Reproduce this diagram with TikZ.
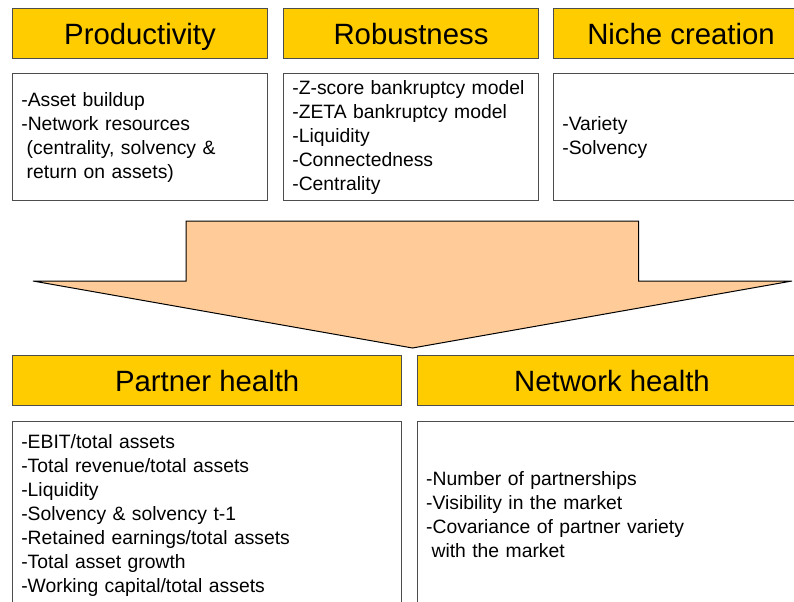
\documentclass[tikz,border=0pt]{standalone}
\usepackage{fontspec}
\setmainfont{Liberation Sans}
\usetikzlibrary{positioning}
\definecolor{headgold}{HTML}{FFCC00}
\definecolor{arrowpeach}{HTML}{FFCC99}
\definecolor{edgegray}{HTML}{4D4D4D}
\begin{document}
\begin{tikzpicture}[x=0.75pt, y=-0.75pt,
    headbox/.style={draw=edgegray, fill=headgold, line width=0.75pt, minimum height=37.5pt,
        inner sep=0pt, text height=17pt, text depth=0pt, font=\fontsize{22}{26}\selectfont},
    listbox/.style={draw=edgegray, fill=white, line width=0.75pt, inner xsep=6.6pt, inner ysep=0pt,
        align=left, font=\fontsize{14.5}{18}\selectfont}]
    \useasboundingbox (0,0) rectangle (794,601);
    \clip (0,0) rectangle (794,601);

    % top row
    \node[headbox, minimum width=191.25pt, anchor=north west] (prod) at (12,8) {Productivity};
    \node[headbox, minimum width=191.25pt, right=11.25pt of prod] (rob) {Robustness};
    \node[headbox, minimum width=191.25pt, right=10.5pt of rob] (niche) {Niche creation};

    \node[listbox, minimum width=191.25pt, text width=178pt, minimum height=95.25pt, below=10.5pt of prod] (prodlist)
        {-Asset buildup\\-Network resources\\\hspace*{0.28em}(centrality, solvency \&\\\hspace*{0.28em}return on assets)};
    \node[listbox, minimum width=191.25pt, text width=178pt, minimum height=95.25pt, below=10.5pt of rob] (roblist)
        {-Z-score bankruptcy model\\-ZETA bankruptcy model\\-Liquidity\\-Connectedness\\-Centrality};
    \node[listbox, minimum width=191.25pt, text width=178pt, minimum height=95.25pt, below=10.5pt of niche] (nichelist)
        {-Variety\\-Solvency};

    % big arrow
    \draw[fill=arrowpeach, line width=0.75pt, line join=miter] (186,221) -- (638.5,221) -- (638.5,281) -- (792,281)
        -- (412.5,348) -- (33,281) -- (186,281) -- cycle;

    % bottom row
    \node[headbox, minimum width=292pt, anchor=north west] (partner) at (12,355) {Partner health};
    \node[headbox, minimum width=292pt, right=10.875pt of partner] (network) {Network health};

    \node[listbox, minimum width=292pt, text width=278.8pt, minimum height=140.25pt, below=11.25pt of partner] (partnerlist)
        {-EBIT/total assets\\-Total revenue/total assets\\-Liquidity\\-Solvency \& solvency t-1\\-Retained earnings/total assets\\-Total asset growth\\-Working capital/total assets};
    \node[listbox, minimum width=292pt, text width=278.8pt, minimum height=140.25pt, below=11.25pt of network] (networklist)
        {-Number of partnerships\\-Visibility in the market\\-Covariance of partner variety\\\hspace*{0.28em}with the market};
\end{tikzpicture}
\end{document}
